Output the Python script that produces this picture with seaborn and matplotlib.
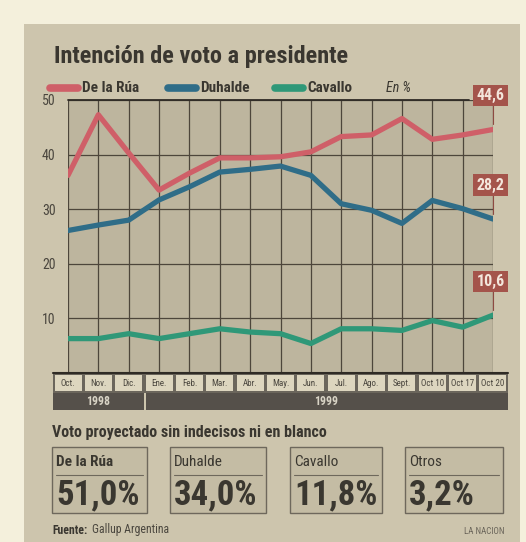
import numpy as np
import pandas as pd
import seaborn as sns
import matplotlib.pyplot as plt
from matplotlib import font_manager
from matplotlib.patches import Rectangle

# Datos (Gallup Argentina, intención de voto, en %)
meses = ["Oct.", "Nov.", "Dic.", "Ene.", "Feb.", "Mar.", "Abr.", "May.",
         "Jun.", "Jul.", "Ago.", "Sept.", "Oct 10", "Oct 17", "Oct 20"]
anios = ["1998", "1999"]
candidatos = ["De la Rúa", "Duhalde", "Cavallo"]
rua = [36.2, 47.3, 40.3, 33.5, 36.6, 39.4, 39.4, 39.6, 40.5, 43.3, 43.6, 46.6, 42.8, 43.6, 44.6]
duhalde = [26.1, 27.1, 28.0, 31.7, 34.1, 36.8, 37.3, 37.9, 36.2, 31.0, 29.8, 27.4, 31.6, 30.1, 28.2]
cavallo = [6.3, 6.3, 7.2, 6.3, 7.2, 8.1, 7.5, 7.2, 5.4, 8.1, 8.1, 7.8, 9.6, 8.4, 10.6]
finales = ["44,6", "28,2", "10,6"]
proy_nombres = ["De la Rúa", "Duhalde", "Cavallo", "Otros"]
proy_valores = ["51,0%", "34,0%", "11,8%", "3,2%"]

colores = {"De la Rúa": "#cf5f68", "Duhalde": "#2f6d88", "Cavallo": "#2f9878"}

# Fuente angosta si existe
nombres = {f.name for f in font_manager.fontManager.ttflist}
angosta = "DejaVu Sans"
for n in ["Liberation Sans Narrow", "DejaVu Sans Condensed", "Roboto Condensed", "Liberation Sans"]:
    if n in nombres:
        angosta = n
        break

sns.set_style("white")
plt.rcParams['font.family'] = [angosta, 'DejaVu Sans']

W, H = 526, 542
fig = plt.figure(figsize=(W / 100, H / 100), dpi=100)
fig.patch.set_facecolor("#f4f0dc")


def fx(px):
    return px / W


def fy(py):
    return 1 - py / H


def rect(x0, y0, x1, y1, **kw):
    fig.add_artist(Rectangle((fx(x0), fy(y1)), fx(x1) - fx(x0), fy(y0) - fy(y1),
                             transform=fig.transFigure, **kw))


# Panel de fondo
rect(24, 24, 520, 542, facecolor="#cdc5ad", edgecolor="none", zorder=0)

# Gráfico principal
ax = fig.add_axes([fx(68), fy(373), fx(493) - fx(68), fy(100) - fy(373)])
ax.set_facecolor("#bdb59e")
df = pd.DataFrame({
    "x": list(range(len(meses))) * 3,
    "valor": rua + duhalde + cavallo,
    "candidato": np.repeat(candidatos, len(meses)),
})
sns.lineplot(data=df, x="x", y="valor", hue="candidato", palette=colores,
             linewidth=3.8, legend=False, ax=ax, zorder=3)
ax.set_xlim(0, len(meses) - 1)
ax.set_ylim(0, 50)
ax.set_xticks(range(len(meses)))
ax.set_yticks([10, 20, 30, 40, 50])
ax.grid(True, color="#4d463b", linewidth=0.9)
ax.tick_params(axis="x", length=0, labelbottom=False)
ax.tick_params(axis="y", length=0, pad=9, labelsize=10, labelcolor="#4a463e")
for s in ax.spines.values():
    s.set_visible(False)
ax.set_xlabel("")
ax.set_ylabel("")
ax.plot([0, 13.2], [50, 50], color="#2f2b25", linewidth=1.3, clip_on=False, zorder=4)

# Cajas con los valores finales
for serie, txt in zip([rua, duhalde, cavallo], finales):
    yv = serie[-1] + 6.2
    ax.plot([14, 14], [serie[-1] + 1, yv], color="#8e4a42", linewidth=0.8, clip_on=False)
    ax.text(13.92, yv, txt, ha="center", va="center", fontsize=11.5, fontweight="bold",
            color="#f3e6dc", clip_on=False, zorder=5,
            bbox=dict(boxstyle="square,pad=0.2", facecolor="#a4544b", edgecolor="none"))

# Banda de meses y años
band = fig.add_axes([fx(53), fy(410), fx(508) - fx(53), fy(373) - fy(410)])
band.set_xlim(-0.5, len(meses) - 0.5)
band.set_ylim(0, 37)
band.axis("off")
band.add_patch(Rectangle((-0.5, 17), len(meses), 20, facecolor="#6b665c", edgecolor="none"))
for i, m in enumerate(meses):
    band.add_patch(Rectangle((i - 0.44, 19), 0.88, 16, facecolor="#ddd6bf", edgecolor="none"))
    band.text(i, 27, m, ha="center", va="center", fontsize=6.5, color="#4a463e")
band.add_patch(Rectangle((-0.5, 0), 3.0, 17, facecolor="#55504a", edgecolor="none"))
band.add_patch(Rectangle((2.58, 0), 11.92, 17, facecolor="#55504a", edgecolor="none"))
band.text(1.0, 8.5, anios[0], ha="center", va="center", fontsize=8.5, fontweight="bold", color="#d9d4c6")
band.text(8.5, 8.5, anios[1], ha="center", va="center", fontsize=8.5, fontweight="bold", color="#d9d4c6")
band.plot([-0.5, len(meses) - 0.5], [37, 37], color="#2f2b25", linewidth=1.5, clip_on=False)

# Título y leyenda
fig.text(fx(54), fy(56), "Intención de voto a presidente", fontsize=17.5, fontweight="bold",
         color="#3a3730", va="center", ha="left")
leyenda_x = [(50, 82), (168, 200), (275, 307)]
for (x0, x1), nombre in zip(leyenda_x, candidatos):
    fig.add_artist(plt.Line2D([fx(x0), fx(x1 - 4)], [fy(88), fy(88)], color=colores[nombre],
                              linewidth=5.5, solid_capstyle="round", transform=fig.transFigure))
    fig.text(fx(x1), fy(88), nombre, fontsize=11, fontweight="bold", color="#3a3730",
             va="center", ha="left")
fig.text(fx(386), fy(88), "En %", fontsize=10, style="italic", color="#3a3730", va="center")

# Voto proyectado
fig.text(fx(52), fy(432), "Voto proyectado sin indecisos ni en blanco", fontsize=11.5,
         fontweight="bold", color="#3a3730", va="center", ha="left")
cajas = [(52, 147), (170, 266), (290, 382), (405, 503)]
for (x0, x1), nombre, valor in zip(cajas, proy_nombres, proy_valores):
    rect(x0, 447, x1, 513, facecolor="#c4bca4", edgecolor="#6e685c", linewidth=1.0, zorder=1)
    fig.add_artist(plt.Line2D([fx(x0 + 4), fx(x1 - 4)], [fy(475), fy(475)], color="#6e685c",
                              linewidth=0.8, transform=fig.transFigure))
    fig.text(fx(x0 + 4), fy(462), nombre, fontsize=11, color="#3a3730", va="center", ha="left",
             fontweight="bold" if nombre == "De la Rúa" else "normal")
    fig.text(fx(x0 + 4), fy(495), valor, fontsize=25, fontweight="bold", color="#3a3730",
             va="center", ha="left")

fig.text(fx(52), fy(530), "Fuente:", fontsize=8.5, fontweight="bold", color="#3a3730", va="center")
fig.text(fx(92), fy(530), "Gallup Argentina", fontsize=8.5, color="#4a463e", va="center")
fig.text(fx(505), fy(532), "LA NACION", fontsize=6.5, color="#6a655a", va="center", ha="right")

fig.savefig("out.png", dpi=100, facecolor=fig.get_facecolor())
